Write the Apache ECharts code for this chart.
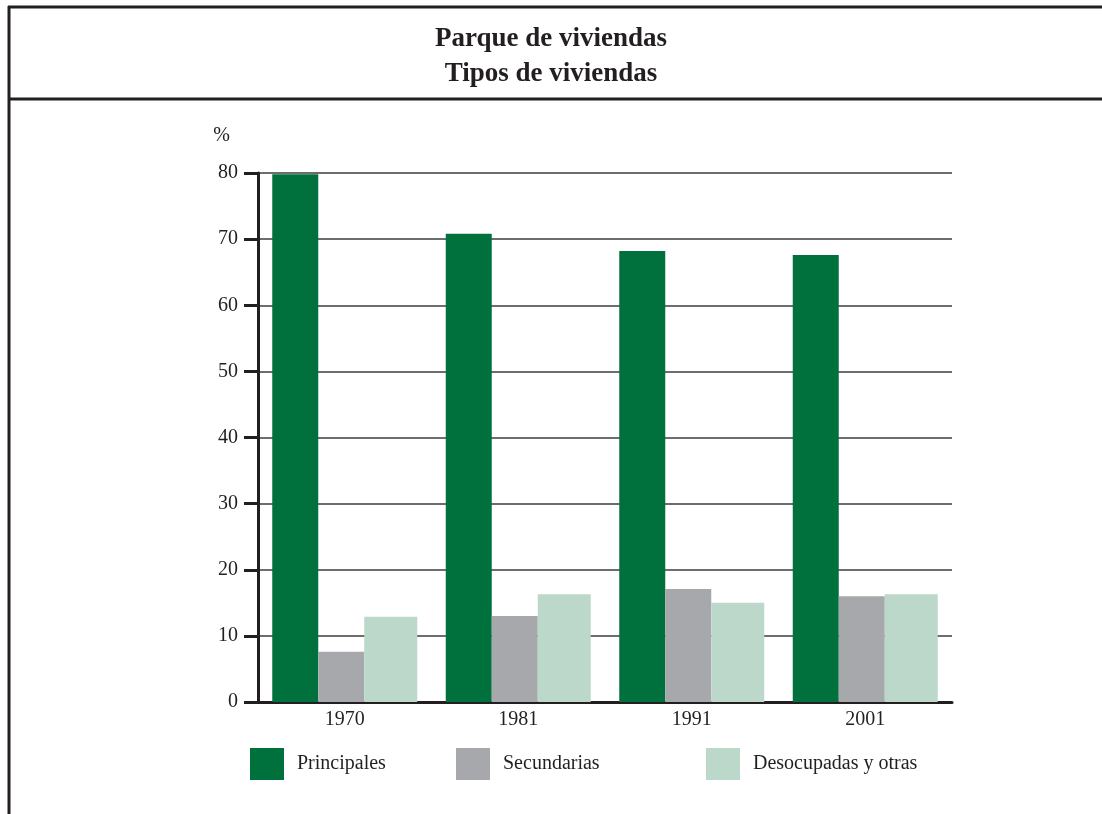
<!DOCTYPE html>
<html>
<head>
<meta charset="utf-8">
<script src="https://cdn.jsdelivr.net/npm/echarts@6/dist/echarts.min.js"></script>
<style>
  html, body { margin: 0; padding: 0; background: #fff; }
  #main { width: 1102px; height: 814px; }
</style>
</head>
<body>
<div id="main"></div>
<script>
// datos
const years = ['1970', '1981', '1991', '2001'];
const principales = [79.8, 70.8, 68.2, 67.6];
const secundarias = [7.6, 13.0, 17.1, 16.0];
const desocupadas = [12.9, 16.3, 15.0, 16.3];
const seriesNames = ['Principales', 'Secundarias', 'Desocupadas y otras'];
const colores = ['#00703c', '#a7a8ab', '#bbd8ca'];

const fuente = '"Liberation Serif", "DejaVu Serif", serif';
const chart = echarts.init(document.getElementById('main'));

// una leyenda por elemento, estan separadas de forma irregular
function leyenda(name, left) {
  return {
    data: [name],
    left: left,
    top: 743,
    itemWidth: 34,
    itemHeight: 32,
    icon: 'rect',
    textStyle: { fontFamily: fuente, fontSize: 20, color: '#231f20', padding: [0, 0, 0, 8] },
    selectedMode: false
  };
}

const option = {
  backgroundColor: '#fff',
  animation: false,
  title: {
    text: 'Parque de viviendas\nTipos de viviendas',
    left: 'center',
    top: 17,
    textStyle: {
      fontFamily: fuente,
      fontSize: 27,
      fontWeight: 'bold',
      color: '#231f20',
      lineHeight: 35
    }
  },
  legend: [
    leyenda(seriesNames[0], 245),
    leyenda(seriesNames[1], 451),
    leyenda(seriesNames[2], 701)
  ],
  grid: { left: 258, right: 150, top: 173, bottom: 112, containLabel: false },
  xAxis: {
    type: 'category',
    data: years,
    axisLine: { lineStyle: { color: '#231f20', width: 3 } },
    axisTick: { show: false },
    axisLabel: { fontFamily: fuente, fontSize: 20, color: '#231f20', margin: 8 }
  },
  yAxis: {
    type: 'value',
    min: 0,
    max: 80,
    interval: 10,
    name: '%',
    nameLocation: 'end',
    nameGap: 27,
    nameTextStyle: { fontFamily: fuente, fontSize: 20, color: '#231f20', align: 'right', padding: [0, 28, 0, 0] },
    axisLine: { show: true, lineStyle: { color: '#231f20', width: 3 } },
    axisTick: { show: true, length: 14, lineStyle: { color: '#231f20', width: 3 } },
    axisLabel: { fontFamily: fuente, fontSize: 20, color: '#231f20', margin: 20 },
    splitLine: { lineStyle: { color: '#6d6d6d', width: 2 } }
  },
  series: [
    { name: seriesNames[0], type: 'bar', data: principales, barWidth: 46, barGap: 0, itemStyle: { color: colores[0] } },
    { name: seriesNames[1], type: 'bar', data: secundarias, barWidth: 46, barGap: 0, itemStyle: { color: colores[1] } },
    { name: seriesNames[2], type: 'bar', data: desocupadas, barWidth: 53, barGap: 0, itemStyle: { color: colores[2] } }
  ],
  // marco del recuadro
  graphic: [
    { type: 'line', shape: { x1: 8, y1: 7, x2: 1102, y2: 7 }, style: { stroke: '#231f20', lineWidth: 3 } },
    { type: 'line', shape: { x1: 8, y1: 99, x2: 1102, y2: 99 }, style: { stroke: '#231f20', lineWidth: 3 } },
    { type: 'line', shape: { x1: 9, y1: 6, x2: 9, y2: 814 }, style: { stroke: '#231f20', lineWidth: 3 } }
  ]
};

chart.setOption(option);
</script>
</body>
</html>
